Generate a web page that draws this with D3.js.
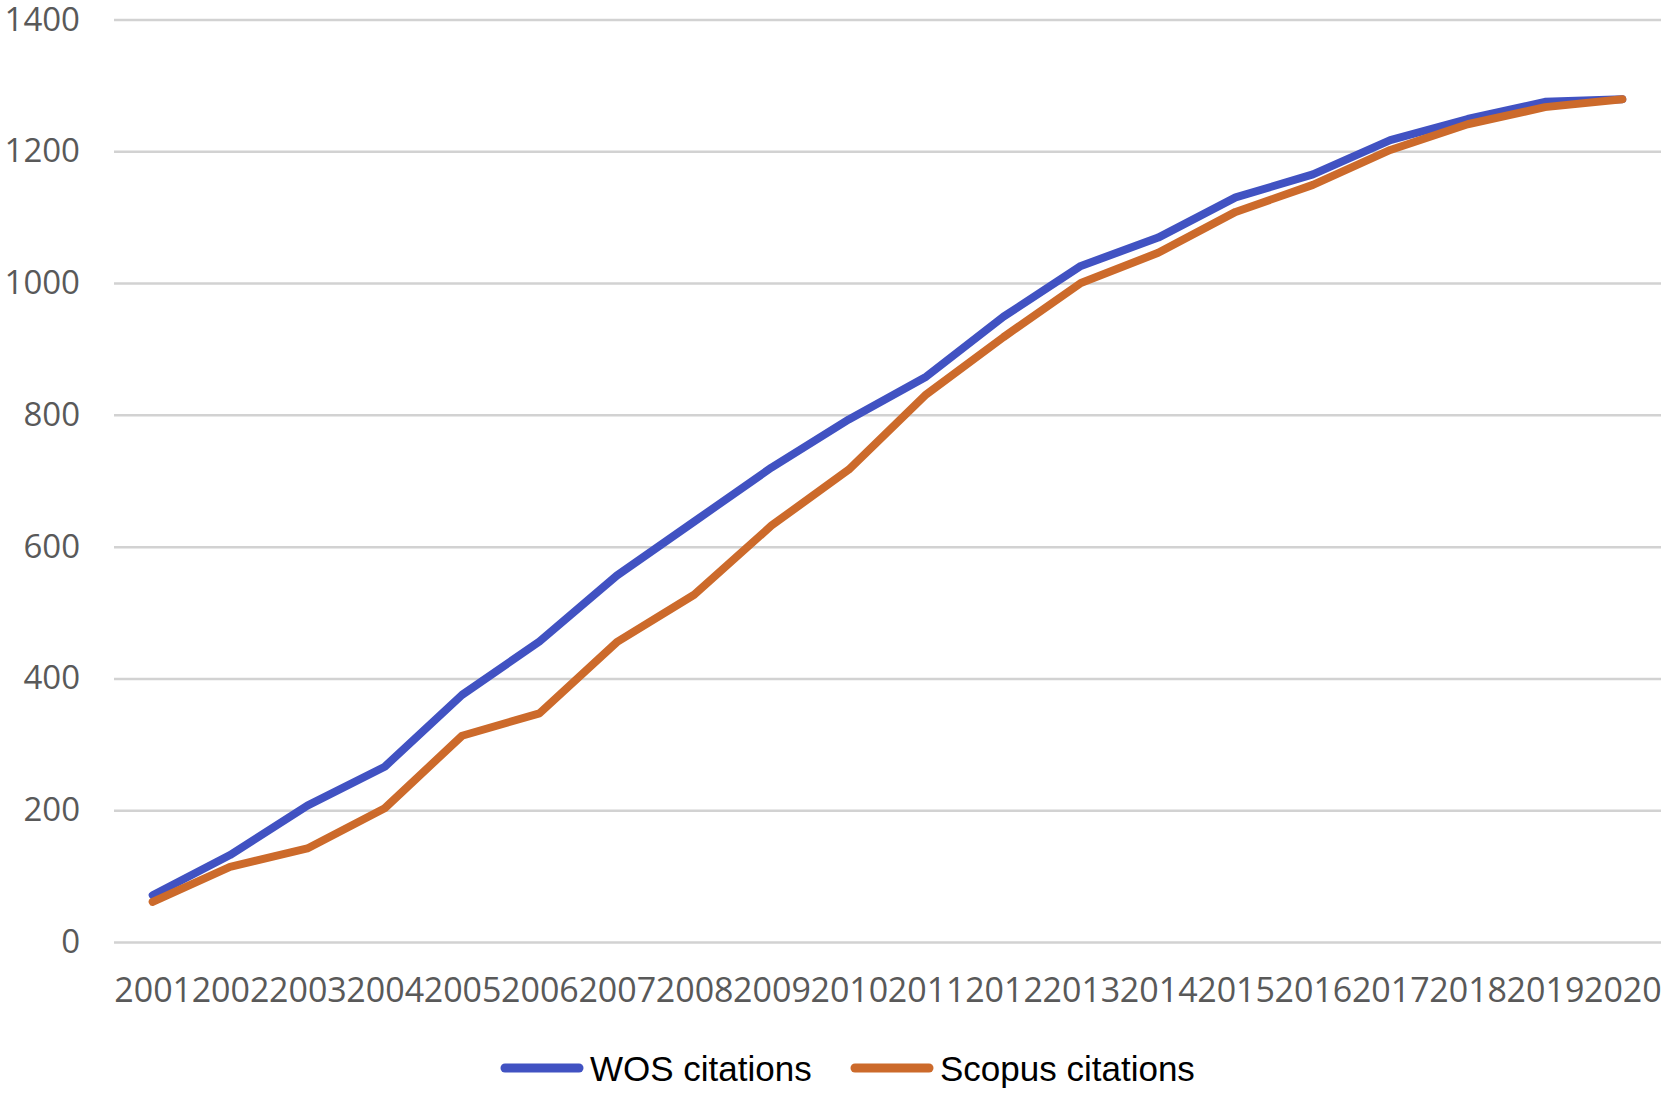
<!DOCTYPE html>
<html>
<head>
<meta charset="utf-8">
<script src="https://cdn.jsdelivr.net/npm/d3@7"></script>
<style>
  body { margin: 0; background: #fff; }
  svg { display: block; }
</style>
</head>
<body>
<div id="graph"></div>
<script>
// data
var years = ["2001","2002","2003","2004","2005","2006","2007","2008","2009","2010",
             "2011","2012","2013","2014","2015","2016","2017","2018","2019","2020"];
var wosCitations = [71, 132, 207, 266, 375, 456, 556, 638, 720, 793,
                    858, 949, 1026, 1069, 1130, 1165, 1217, 1249, 1275, 1279];
var scopusCitations = [61, 114, 142, 203, 313, 347, 455, 527, 632, 717,
                       831, 918, 1000, 1046, 1108, 1149, 1202, 1241, 1267, 1279];
var yTicks = [0, 200, 400, 600, 800, 1000, 1200, 1400];
var seriesNames = ["WOS citations", "Scopus citations"];

var width = 1675, height = 1101;
// plot area edges (px)
var plotLeft = 114, plotRight = 1661, plotTop = 19.5, plotBottom = 942;
var colors = ["#4152C2", "#CC6A2B"];

var svg = d3.select("#graph")
    .append("svg")
    .attr("width", width)
    .attr("height", height);

var x = d3.scalePoint()
    .domain(years)
    .range([plotLeft, plotRight])
    .padding(0.5);

var y = d3.scaleLinear()
    .domain([0, 1400])
    .range([plotBottom, plotTop]);

// gridlines + y labels
var yAxis = svg.append("g")
    .attr("transform", "translate(" + plotLeft + ",0)")
    .call(d3.axisLeft(y)
        .tickValues(yTicks)
        .tickFormat(d3.format("d"))
        .tickSize(-(plotRight - plotLeft))
        .tickPadding(34));
yAxis.select(".domain").remove();
yAxis.selectAll(".tick line")
    .attr("stroke", "#d2d2d2")
    .attr("stroke-width", 2.5);
yAxis.selectAll(".tick text")
    .attr("fill", "#595959")
    .style("font-family", "'Open Sans', sans-serif")
    .style("font-size", "33px");

// x labels
var xAxis = svg.append("g")
    .attr("transform", "translate(0," + plotBottom + ")")
    .call(d3.axisBottom(x).tickSize(0).tickPadding(36));
xAxis.select(".domain").remove();
xAxis.selectAll(".tick text")
    .attr("fill", "#595959")
    .style("font-family", "'Open Sans', sans-serif")
    .style("font-size", "34px");

// lines
var line = d3.line()
    .x(function (d, i) { return x(years[i]) })
    .y(function (d) { return y(d) });

[wosCitations, scopusCitations].forEach(function (series, k) {
    svg.append("path")
        .datum(series)
        .attr("fill", "none")
        .attr("stroke", colors[k])
        .attr("stroke-width", 8)
        .attr("stroke-linejoin", "round")
        .attr("stroke-linecap", "round")
        .attr("d", line);
});

// legend
var legendX = [505, 855];
var legend = svg.append("g");
seriesNames.forEach(function (name, k) {
    legend.append("line")
        .attr("x1", legendX[k]).attr("x2", legendX[k] + 74)
        .attr("y1", 1068).attr("y2", 1068)
        .attr("stroke", colors[k])
        .attr("stroke-width", 9)
        .attr("stroke-linecap", "round");
    legend.append("text")
        .attr("x", legendX[k] + 85)
        .attr("y", 1081)
        .attr("fill", "#000")
        .style("font-family", "'Liberation Sans', Arial, sans-serif")
        .style("font-size", "35px")
        .text(name);
});
</script>
</body>
</html>
